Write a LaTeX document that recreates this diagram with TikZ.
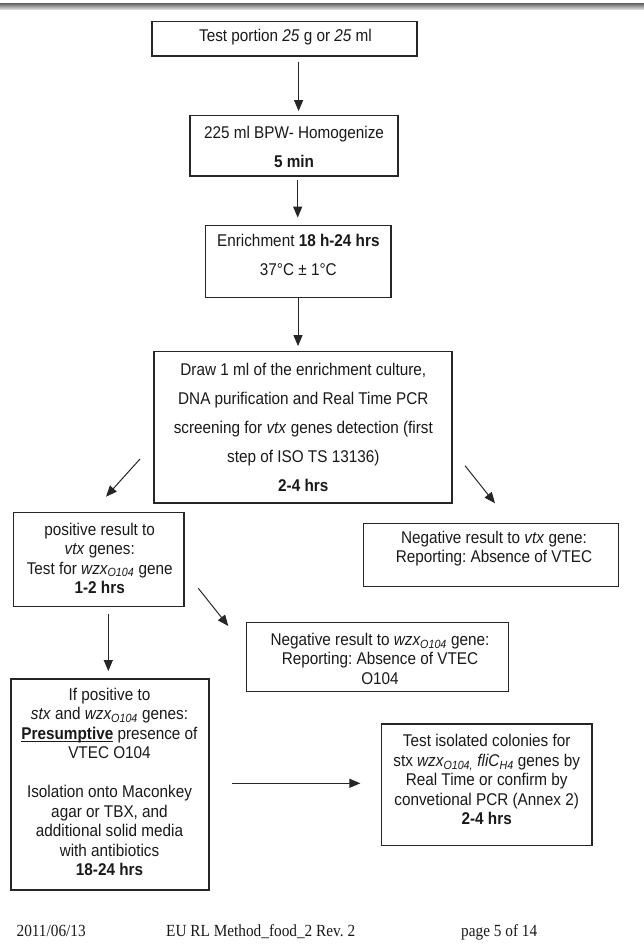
\documentclass[tikz,border=0pt]{standalone}
\usepackage{fontspec}
\setmainfont{Liberation Sans}[FakeStretch=0.9]
\newfontfamily\footfont{Liberation Serif}[FakeStretch=0.9]
\usetikzlibrary{arrows.meta}
\frenchspacing
\tikzset{
  box/.style={draw=black!85, line width=1.2pt, rectangle, inner sep=0pt},
  txt/.style={align=center, inner sep=0pt, text=black!90, font=\fontsize{17}{19.5}\selectfont},
  txtbig/.style={align=center, inner sep=0pt, text=black!90, font=\fontsize{17}{29}\selectfont},
  foot/.style={anchor=base west, inner sep=0pt, text=black!90, font=\footfont\fontsize{17}{20}\selectfont},
  arr/.style={draw=black!85, line width=1pt, -{Triangle[length=11pt,width=9pt]}},
}
\begin{document}
\begin{tikzpicture}[x=1pt,y=-1pt]
\useasboundingbox (0,0) rectangle (644,952);
% header rule
\shade[top color=black!55, bottom color=black!12] (0,4) rectangle (644,9.5);

% boxes
\node[box, minimum width=265pt, minimum height=34.3pt] (b1) at (284.5,38.85) {};
\node[txt] (t1) at (285.5,37.3) {Test portion \textit{25} g or \textit{25} ml};

\node[box, minimum width=208pt, minimum height=60.3pt] (b2) at (294,145.85) {};
\node[txtbig] (t2) at (294,146.5) {225 ml BPW- Homogenize\\ \textbf{5 min}};

\node[box, minimum width=185.3pt, minimum height=71.6pt] (b3) at (298.35,261.5) {};
\node[txtbig] (t3) at (298.35,254.85) {Enrichment \textbf{18 h-24 hrs}\\ 37°C ± 1°C};

\node[box, minimum width=298pt, minimum height=151.3pt] (b4) at (303,427.35) {};
\node[txtbig] (t4) at (303.3,427.5) {Draw 1 ml of the enrichment culture,\\
DNA purification and Real Time PCR\\
screening for \textit{vtx} genes detection (first\\
step of ISO TS 13136)\\
\textbf{2-4 hrs}};

\node[box, minimum width=255pt, minimum height=63.4pt] (bnv) at (490.8,555) {};
\node[txt] (tnv) at (494,548.8) {Negative result to \textit{vtx} gene:\\ Reporting: Absence of VTEC};

\node[box, minimum width=170.7pt, minimum height=94.4pt] (bpv) at (98.65,559.5) {};
\node[txt] (tpv) at (99.7,558.3) {positive result to\\ \textit{vtx} genes:\\ Test for \textit{wzx\textsubscript{O104}} gene\\ \textbf{1-2 hrs}};

\node[box, minimum width=261.6pt, minimum height=69pt] (bnw) at (377.5,657.2) {};
\node[txt] (tnw) at (380,658.85) {Negative result to \textit{wzx\textsubscript{O104}} gene:\\ Reporting: Absence of VTEC\\ O104};

\node[box, minimum width=198pt, minimum height=211pt] (bip) at (110,784.5) {};
\node[txt] (tip) at (109.5,782) {If positive to\\
\textit{stx} and \textit{wzx\textsubscript{O104}} genes:\\
\underline{\smash{\textbf{Presumptive}}} presence of\\
VTEC O104\\[19.5pt]
Isolation onto Maconkey\\
agar or TBX, and\\
additional solid media\\
with antibiotics\\
\textbf{18-24 hrs}};

\node[box, minimum width=210.3pt, minimum height=121.7pt] (bti) at (486.85,784.85) {};
\node[txt] (tti) at (486.7,779.85) {Test isolated colonies for\\
stx \textit{wzx\textsubscript{O104,} fliC\textsubscript{H4}} genes by\\
Real Time or confirm by\\
convetional PCR (Annex 2)\\
\textbf{2-4 hrs}};

% connectors
\coordinate (ax1) at (298.6,0);
\coordinate (ax2) at (297.7,0);
\coordinate (ax3) at (298,0);
\coordinate (ax4) at (108.3,0);
\coordinate (hy) at (0,783.3);
\draw[arr, shorten <=5pt, shorten >=4pt] (b1.south -| ax1) -- (b2.north -| ax1);
\draw[arr, shorten <=3pt, shorten >=7.5pt] (b2.south -| ax2) -- (b3.north -| ax2);
\draw[arr, shorten >=5pt] (b3.south -| ax3) -- (b4.north -| ax3);
\draw[arr, shorten <=6.6pt, shorten >=7.3pt] (bpv.south -| ax4) -- (bip.north -| ax4);
\draw[arr, shorten <=22pt, shorten >=20.7pt] (bip.east |- hy) -- (bti.west |- hy);

\coordinate (d1s) at (140,459);
\coordinate (d1e) at (106,496.7);
\coordinate (d2s) at (465,465.7);
\coordinate (d2e) at (495,503.3);
\coordinate (d3s) at (198.3,588.3);
\coordinate (d3e) at (228.3,626);
\draw[arr] (d1s) -- (d1e);
\draw[arr] (d2s) -- (d2e);
\draw[arr] (d3s) -- (d3e);

% footer
\node[foot] (f1) at (16.4,936.7) {2011/06/13};
\node[foot] (f2) at (166,936.7) {EU RL Method\_food\_2 Rev. 2};
\node[foot] (f3) at (461,936.7) {page 5 of 14};
\end{tikzpicture}
\end{document}
